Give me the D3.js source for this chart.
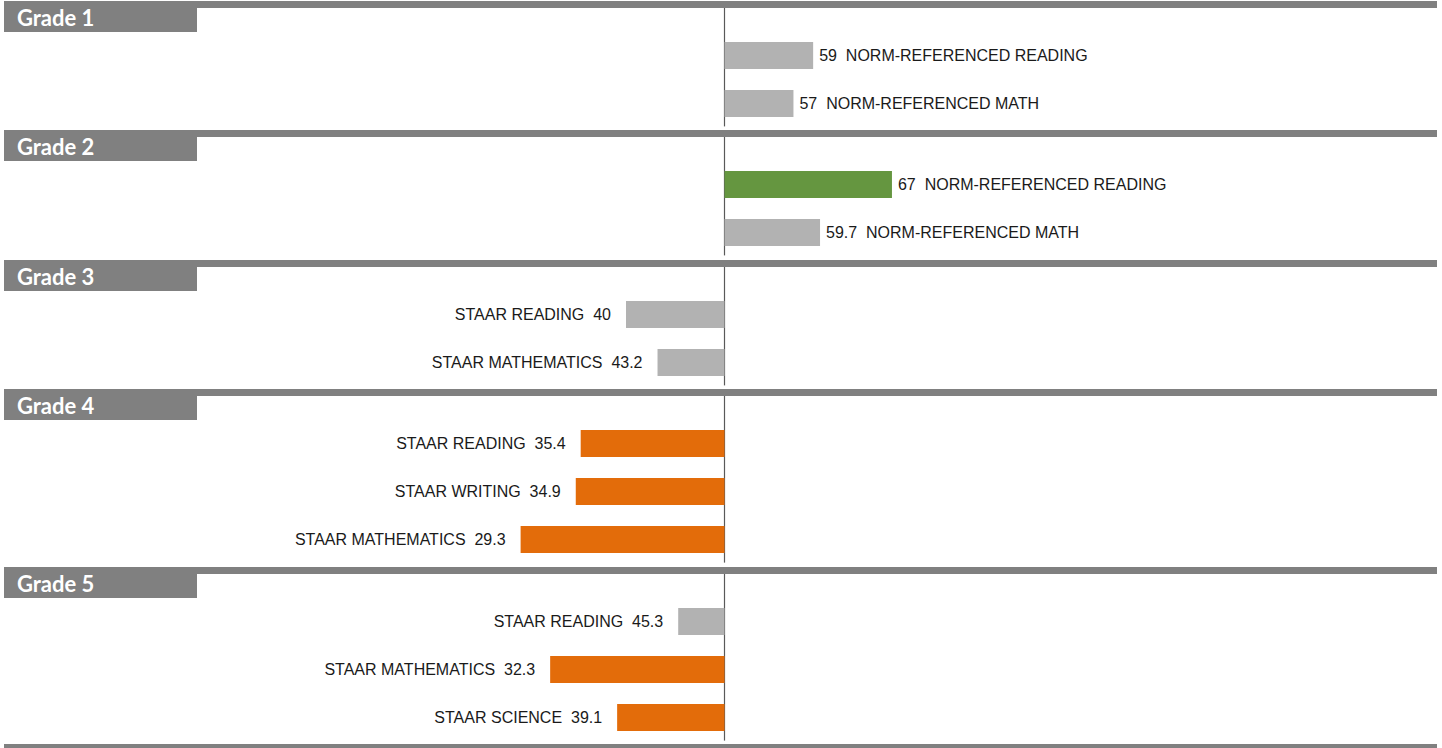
<!DOCTYPE html>
<html>
<head>
<meta charset="utf-8">
<script src="https://cdn.jsdelivr.net/npm/d3@7"></script>
<style>
  body { margin: 0; background: #fff; }
  text { white-space: pre; }
</style>
</head>
<body>
<div id="chart"></div>
<script>
// data, one list per grade section
var grades = ["Grade 1", "Grade 2", "Grade 3", "Grade 4", "Grade 5"];
var tests = [
  ["NORM-REFERENCED READING", "NORM-REFERENCED MATH"],
  ["NORM-REFERENCED READING", "NORM-REFERENCED MATH"],
  ["STAAR READING", "STAAR MATHEMATICS"],
  ["STAAR READING", "STAAR WRITING", "STAAR MATHEMATICS"],
  ["STAAR READING", "STAAR MATHEMATICS", "STAAR SCIENCE"]
];
var scores = [
  [59, 57],
  [67, 59.7],
  [40, 43.2],
  [35.4, 34.9, 29.3],
  [45.3, 32.3, 39.1]
];
// highlight: "up" = green, "down" = orange, "" = neutral gray
var flags = [
  ["", ""],
  ["up", ""],
  ["", ""],
  ["down", "down", "down"],
  ["", "down", "down"]
];
var baseline = 50;

var W = 1442, H = 748;
var headH = 33, rowH = 48.2, barH = 27, barTop = 41;

var colorOf = { "": "#b2b2b2", "up": "#659640", "down": "#e36c0a" };

var svg = d3.select("#chart").append("svg")
  .attr("width", W)
  .attr("height", H);

var x = d3.scaleLinear()
  .domain([0, 100])
  .range([724.5 - 50 * 9.85, 724.5 + 50 * 9.85]);

// build section offsets
var sections = [];
var ypos = 1;
grades.forEach(function(g, i) {
  var rows = tests[i].map(function(t, j) {
    return { name: t, value: scores[i][j], flag: flags[i][j] };
  });
  sections.push({ grade: g, y: Math.round(ypos), rows: rows });
  ypos += headH + rows.length * rowH;
});
ypos = Math.round(ypos);

var sec = svg.selectAll(".section")
  .data(sections)
  .enter().append("g")
  .attr("class", "section")
  .attr("transform", function(d) { return "translate(0," + d.y + ")"; });

// center line
sec.append("line")
  .attr("x1", x(baseline)).attr("x2", x(baseline))
  .attr("y1", 7)
  .attr("y2", function(d) { return headH + d.rows.length * rowH - 4; })
  .style("stroke", "#595959")
  .style("stroke-width", 1.2);

// header band + label box
sec.append("rect")
  .attr("x", 4).attr("y", 0)
  .attr("width", 1433).attr("height", 7)
  .style("fill", "#808080");

sec.append("rect")
  .attr("x", 4).attr("y", 0)
  .attr("width", 193).attr("height", 31)
  .style("fill", "#808080");

sec.append("text")
  .attr("x", 17).attr("y", 25)
  .attr("font-family", "Lato, sans-serif")
  .attr("font-weight", "bold")
  .attr("font-size", 22)
  .style("fill", "#fff")
  .text(function(d) { return d.grade; });

// closing rule under the last section
svg.append("rect")
  .attr("x", 4).attr("y", ypos)
  .attr("width", 1433).attr("height", 5)
  .style("fill", "#808080");

var bar = sec.selectAll(".bar")
  .data(function(d) { return d.rows; })
  .enter().append("g")
  .attr("class", "bar")
  .attr("transform", function(d, i) { return "translate(0," + Math.round(barTop + i * rowH) + ")"; });

bar.append("rect")
  .attr("x", function(d) { return d.value >= baseline ? x(baseline) : x(d.value); })
  .attr("y", 0)
  .attr("width", function(d) { return Math.abs(x(d.value) - x(baseline)); })
  .attr("height", barH)
  .style("fill", function(d) { return colorOf[d.flag]; });

bar.append("text")
  .attr("x", function(d) { return d.value >= baseline ? x(d.value) + 6 : x(d.value) - 15; })
  .attr("y", 19)
  .attr("text-anchor", function(d) { return d.value >= baseline ? "start" : "end"; })
  .attr("font-family", "Arial, Liberation Sans, sans-serif")
  .attr("font-size", 16)
  .style("fill", "#1a1a1a")
  .text(function(d) {
    return d.value >= baseline ? d.value + "  " + d.name : d.name + "  " + d.value;
  });
</script>
</body>
</html>
